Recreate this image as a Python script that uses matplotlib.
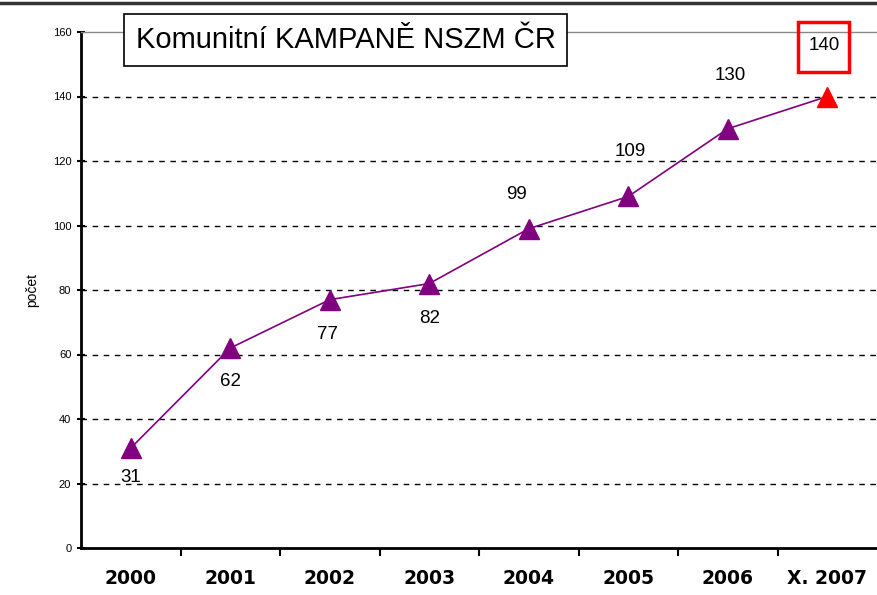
import matplotlib.pyplot as plt
import matplotlib.transforms as mtransforms
from matplotlib.patches import Rectangle

# === Data ===
years = ["2000", "2001", "2002", "2003", "2004", "2005", "2006", "X. 2007"]
counts = [31, 62, 77, 82, 99, 109, 130, 140]

# posun popisku od bodu (px), jako v puvodnim grafu
label_offsets = [(0, -29), (0, -33), (-2, -35), (0, -35),
                 (-12, 34), (2, 45), (2, 53), (-3, 51)]

purple = "#800080"

plt.rcParams["font.family"] = ["Liberation Sans", "DejaVu Sans"]

fig = plt.figure(figsize=(8.77, 5.95), dpi=100)
ax = fig.add_axes([81 / 877, 47 / 595, 796 / 877, 516 / 595])

x = list(range(len(years)))
ax.plot(x, counts, color=purple, lw=1.2, zorder=3)
ax.plot(x[:-1], counts[:-1], ls="none", marker="^", ms=15, color=purple, zorder=4)
ax.plot(x[-1:], counts[-1:], ls="none", marker="^", ms=15, color="red", zorder=4)

ax.set_xlim(-0.5, len(years) - 0.5)
ax.set_ylim(0, 160)

# popisky hodnot
for i, (v, off) in enumerate(zip(counts, label_offsets)):
    ax.annotate(str(v), (i, v), xytext=off, textcoords="offset pixels",
                ha="center", va="center", fontsize=13.5, zorder=6)

# cerveny ramecek kolem posledni hodnoty
last_tr = mtransforms.ScaledTranslation(x[-1], counts[-1], ax.transData)
fig.canvas.draw()
box = Rectangle((-29, 25), 51, 50, transform=mtransforms.Affine2D() + last_tr,
                fill=False, ec="red", lw=2.5, clip_on=False, zorder=6)
ax.add_patch(box)

ax.set_yticks(range(0, 161, 20))
ax.set_yticklabels([str(t) for t in range(0, 161, 20)], fontsize=8)
ax.set_xticks(x)
ax.set_xticklabels(years, fontsize=13.5, fontweight="bold", family="DejaVu Sans")
ax.set_xticks([i + 0.5 for i in x[:-1]], minor=True)
ax.tick_params(axis="x", which="major", length=0, pad=15)
ax.tick_params(axis="x", which="minor", length=6, width=1.5, direction="out")
ax.tick_params(axis="y", length=6, width=1.5, direction="inout", pad=4)

for t in range(20, 160, 20):
    ax.axhline(t, color="black", lw=1, ls=(0, (4, 4)), zorder=1)

ax.spines["left"].set_linewidth(2)
ax.spines["bottom"].set_linewidth(2)
ax.spines["top"].set_color("#888888")
ax.spines["top"].set_linewidth(1)
ax.spines["right"].set_visible(False)

ax.set_ylabel("počet", fontsize=10, labelpad=10)

ax.text(0.0685, 0.9845, "Komunitní KAMPANĚ NSZM ČR", transform=ax.transAxes,
        fontsize=21, ha="left", va="center",
        bbox=dict(boxstyle="square,pad=0.4", fc="white", ec="black", lw=1.2), zorder=5)

# horni okraj
fig.add_artist(plt.Line2D([0, 1], [1 - 3 / 595, 1 - 3 / 595], color="#333333", lw=2.5))

fig.savefig("out.png", dpi=100)
